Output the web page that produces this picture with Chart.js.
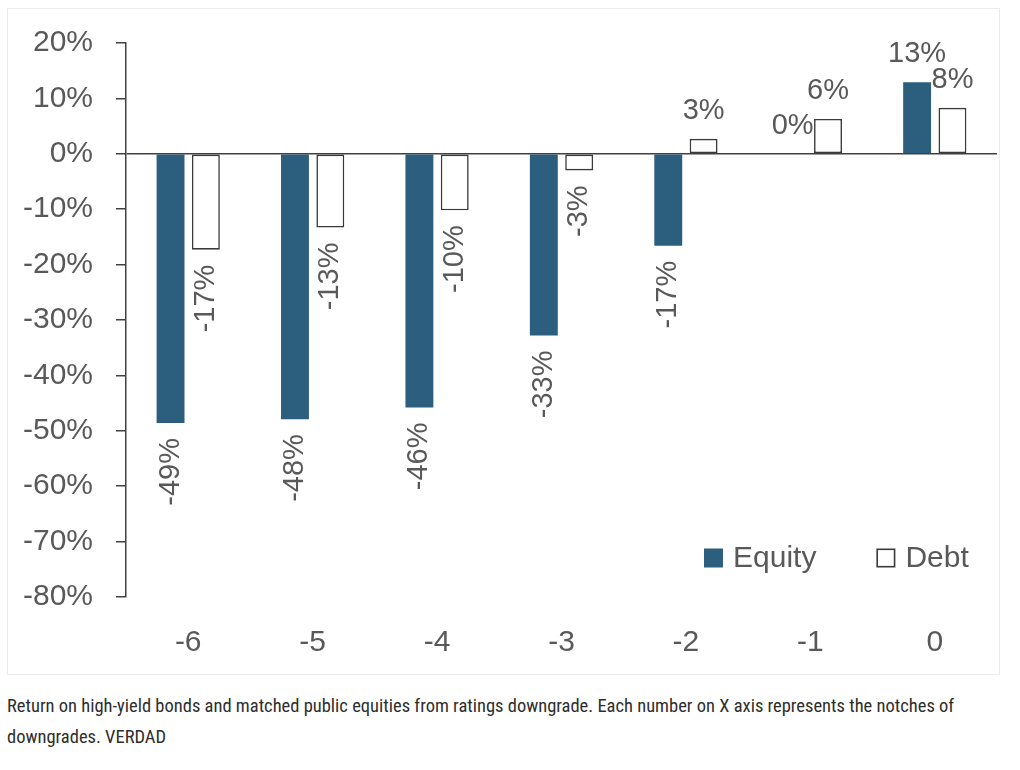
<!DOCTYPE html>
<html>
<head>
<meta charset="utf-8">
<script src="https://cdn.jsdelivr.net/npm/chart.js@4.4.1/dist/chart.umd.min.js"></script>
<style>
    body { margin: 0; background: #ffffff; }
    #card {
        position: absolute; left: 7px; top: 8px;
        width: 991px; height: 665px;
        border: 1px solid #ececec;
        background: #ffffff;
    }
    #caption {
        position: absolute; left: 7px; top: 691px;
        font-family: 'Liberation Sans Narrow', 'Roboto Condensed', 'DejaVu Sans Condensed', sans-serif;
        font-size: 18.5px; line-height: 31px; color: #2e2e2e;
        white-space: nowrap;
    }
</style>
</head>
<body>
<div id="card"><canvas id="myChart"></canvas></div>
<div id="caption">Return on high-yield bonds and matched public equities from ratings downgrade. Each number on X axis represents the notches of<br>downgrades. VERDAD</div>
<script>
const notches = ['-6', '-5', '-4', '-3', '-2', '-1', '0'];
const equityReturns = [-48.6, -47.9, -45.8, -32.8, -16.6, 0, 12.9];
const debtReturns = [-17.3, -13.3, -10.2, -3.0, 2.7, 6.3, 8.3];
const yTicks = { min: -80, max: 20, step: 10 };

const textGray = '#595959';
const lineGray = '#404040';
Chart.defaults.font.family = "'Liberation Sans', Arial, sans-serif";

// value labels: above bars when positive, rotated under the bar end when negative
const barLabels = {
    id: 'barLabels',
    afterDatasetsDraw(chart) {
        const ctx = chart.ctx;
        ctx.save();
        ctx.fillStyle = textGray;
        ctx.font = "29px 'Liberation Sans', Arial, sans-serif";
        chart.data.datasets.forEach((dataset, i) => {
            const meta = chart.getDatasetMeta(i);
            meta.data.forEach((bar, j) => {
                const v = dataset.data[j];
                const text = Math.round(v) + '%';
                if (v >= 0) {
                    ctx.textAlign = 'center';
                    ctx.textBaseline = 'alphabetic';
                    ctx.fillText(text, bar.x, bar.y - 20);
                } else {
                    ctx.save();
                    ctx.translate(bar.x, bar.y + 15);
                    ctx.rotate(-Math.PI / 2);
                    ctx.textAlign = 'right';
                    ctx.textBaseline = 'middle';
                    ctx.fillText(text, 0, 0);
                    ctx.restore();
                }
            });
        });
        ctx.restore();
    }
};

// legend sitting inside the plot, bottom right
const innerLegend = {
    id: 'innerLegend',
    afterDraw(chart) {
        const ctx = chart.ctx;
        const area = chart.chartArea;
        ctx.save();
        ctx.font = "30px 'Liberation Sans', Arial, sans-serif";
        ctx.textBaseline = 'middle';
        ctx.textAlign = 'left';
        let x = area.right - 293;
        const y = area.bottom - 39;
        const box = 19;
        chart.data.datasets.forEach((dataset, i) => {
            ctx.fillStyle = dataset.backgroundColor;
            ctx.fillRect(x, y - box / 2, box, box);
            if (dataset.borderWidth > 0) {
                ctx.strokeStyle = dataset.borderColor;
                ctx.lineWidth = 1.6;
                ctx.strokeRect(x + 0.8, y - box / 2 + 0.8, box - 1.6, box - 1.6);
            }
            x += box + 10;
            ctx.fillStyle = textGray;
            ctx.fillText(dataset.label, x, y + 1);
            x += ctx.measureText(dataset.label).width + 60;
        });
        ctx.restore();
    }
};

var myChart;
function createChart() {
    const ctx = document.getElementById('myChart').getContext('2d');
    myChart = new Chart(ctx, {
        type: 'bar',
        data: {
            labels: notches,
            datasets: [
                {
                    label: 'Equity',
                    data: equityReturns,
                    backgroundColor: '#2c5e7e',
                    borderWidth: 0
                },
                {
                    label: 'Debt',
                    data: debtReturns,
                    backgroundColor: '#ffffff',
                    borderColor: '#3a3a3a',
                    borderWidth: 1.6,
                    borderSkipped: false
                }
            ]
        },
        options: {
            responsive: true,
            maintainAspectRatio: false,
            animation: false,
            categoryPercentage: 0.568,
            barPercentage: 0.79,
            layout: { padding: { left: 15, top: 34, right: 2, bottom: 15 } },
            plugins: {
                legend: { display: false },
                tooltip: { enabled: false }
            },
            scales: {
                x: {
                    grid: { display: false, drawTicks: false },
                    border: { display: false },
                    ticks: {
                        color: textGray,
                        padding: 28,
                        font: { size: 30 }
                    },
                    afterFit: (scale) => { scale.height = 62; }
                },
                y: {
                    min: yTicks.min,
                    max: yTicks.max,
                    border: { display: true, color: lineGray, width: 1.5 },
                    grid: {
                        color: (c) => (c.tick && c.tick.value === 0) ? lineGray : 'rgba(0,0,0,0)',
                        tickColor: lineGray,
                        tickLength: 10,
                        lineWidth: 1.5
                    },
                    ticks: {
                        stepSize: yTicks.step,
                        color: textGray,
                        padding: 23,
                        font: { size: 30 },
                        callback: (v) => v + '%'
                    },
                    afterFit: (scale) => {
                        scale.width = 103;
                        scale.paddingTop = 0;
                        scale.paddingBottom = 0;
                    }
                }
            }
        },
        plugins: [barLabels, innerLegend]
    });
}

createChart();
</script>
</body>
</html>
